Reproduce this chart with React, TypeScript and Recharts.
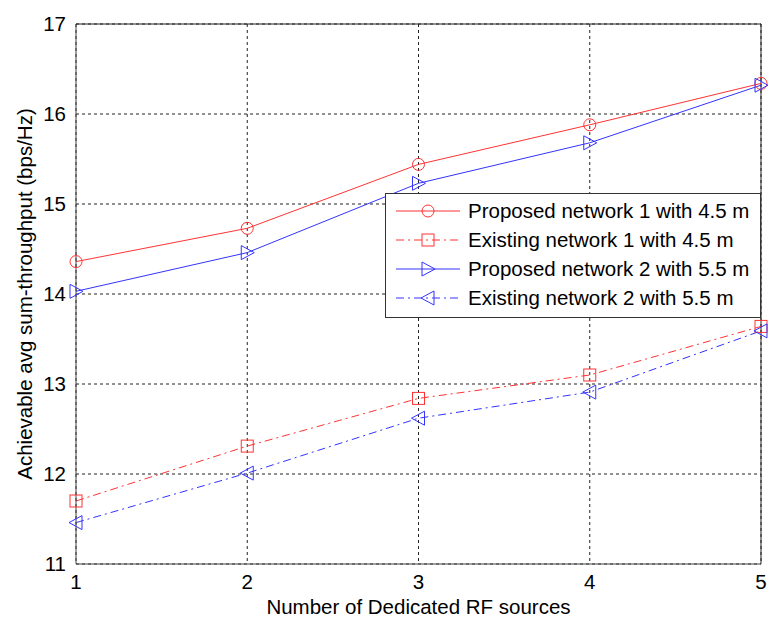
import React from 'react';
import { LineChart, Line, XAxis, YAxis, CartesianGrid, ReferenceLine } from 'recharts';

const sources = [1, 2, 3, 4, 5];
const proposed1 = [14.36, 14.73, 15.44, 15.88, 16.34];
const existing1 = [11.7, 12.31, 12.84, 13.1, 13.64];
const proposed2 = [14.03, 14.46, 15.23, 15.68, 16.32];
const existing2 = [11.46, 12.01, 12.62, 12.91, 13.59];
const xTicks = [1, 2, 3, 4, 5];
const yTicks = [11, 12, 13, 14, 15, 16, 17];
const seriesNames = [
  'Proposed network 1 with 4.5 m',
  'Existing network 1 with 4.5 m',
  'Proposed network 2 with 5.5 m',
  'Existing network 2 with 5.5 m',
];
const xTitle = 'Number of Dedicated RF sources';
const yTitle = 'Achievable avg sum-throughput (bps/Hz)';

const data = sources.map((s, i) => ({
  x: s,
  p1: proposed1[i],
  e1: existing1[i],
  p2: proposed2[i],
  e2: existing2[i],
}));

const RED = '#ff3333';
const BLUE = '#3333ff';
const FONT = 'Liberation Sans, Arial, sans-serif';
const FS = 20.5;

type Kind = 'circle' | 'square' | 'right' | 'left';

const markerEl = (kind: Kind, cx: number, cy: number, color: string, key?: string) => {
  if (kind === 'circle') return <circle key={key} cx={cx} cy={cy} r={6} fill="none" stroke={color} strokeWidth={1} />;
  if (kind === 'square') return <rect key={key} x={cx - 6} y={cy - 6} width={12} height={12} fill="none" stroke={color} strokeWidth={1} />;
  if (kind === 'right')
    return <polygon key={key} points={`${cx - 6},${cy - 7} ${cx + 7},${cy} ${cx - 6},${cy + 7}`} fill="none" stroke={color} strokeWidth={1} />;
  return <polygon key={key} points={`${cx + 6},${cy - 7} ${cx - 7},${cy} ${cx + 6},${cy + 7}`} fill="none" stroke={color} strokeWidth={1} />;
};

const makeDot = (kind: Kind, color: string) => (props: any) => {
  const { cx, cy, index } = props;
  if (cx == null || cy == null) return <g key={index} />;
  return markerEl(kind, cx, cy, color, `m-${kind}-${index}`);
};

const legendItems: { name: string; color: string; dash?: string; kind: Kind }[] = [
  { name: seriesNames[0], color: RED, kind: 'circle' },
  { name: seriesNames[1], color: RED, dash: '8 4 2 4', kind: 'square' },
  { name: seriesNames[2], color: BLUE, kind: 'right' },
  { name: seriesNames[3], color: BLUE, dash: '8 4 2 4', kind: 'left' },
];

const LegendBox = () => (
  <svg width={377} height={126} style={{ display: 'block' }}>
    <rect x={0.5} y={0.5} width={375} height={124} fill="#fff" stroke="#333" strokeWidth={1} />
    {legendItems.map((it, i) => {
      const y = 18 + i * 29;
      return (
        <g key={it.name}>
          <line x1={11} x2={75} y1={y} y2={y} stroke={it.color} strokeWidth={1} strokeDasharray={it.dash} />
          {markerEl(it.kind, 43, y, it.color)}
          <text x={83} y={y + 7} fontSize={FS} fontFamily={FONT} fill="#000">
            {it.name}
          </text>
        </g>
      );
    })}
  </svg>
);

const YLabel = (props: any) => {
  const vb = props.viewBox || { x: 0, y: 24, width: 76, height: 540 };
  const cx = 24;
  const cy = vb.y + vb.height / 2;
  return (
    <text x={cx} y={cy} transform={`rotate(-90 ${cx} ${cy})`} textAnchor="middle" dominantBaseline="central" fontSize={FS} fontFamily={FONT} fill="#000">
      {yTitle}
    </text>
  );
};

const XLabel = (props: any) => {
  const vb = props.viewBox || { x: 76, y: 564, width: 685, height: 55 };
  const cx = vb.x + vb.width / 2;
  return (
    <text x={cx} y={606} textAnchor="middle" dominantBaseline="central" fontSize={FS} fontFamily={FONT} fill="#000">
      {xTitle}
    </text>
  );
};

export default function App() {
  return (
    <div style={{ position: 'absolute', left: 0, top: 0, width: 768, height: 619, background: '#fff' }}>
      <LineChart width={768} height={619} data={data} margin={{ top: 24, right: 7, bottom: 0, left: 0 }}>
        <CartesianGrid stroke="#222" strokeDasharray="3 3" strokeWidth={1} />
        <XAxis
          dataKey="x"
          type="number"
          domain={[1, 5]}
          ticks={xTicks}
          height={55}
          stroke="#444"
          tickLine={false}
          tick={{ fill: '#000', fontSize: FS, fontFamily: FONT, dy: 2 }}
          label={<XLabel />}
        />
        <YAxis
          type="number"
          domain={[11, 17]}
          ticks={yTicks}
          width={76}
          stroke="#444"
          tickLine={false}
          tick={{ fill: '#000', fontSize: FS, fontFamily: FONT, dx: -2 }}
          label={<YLabel />}
        />
        <ReferenceLine y={17} stroke="#222" strokeWidth={1} />
        <ReferenceLine x={5} stroke="#222" strokeWidth={1} />
        <Line dataKey="p1" name={seriesNames[0]} stroke={RED} strokeWidth={1} dot={makeDot('circle', RED)} isAnimationActive={false} />
        <Line dataKey="e1" name={seriesNames[1]} stroke={RED} strokeWidth={1} strokeDasharray="8 4 2 4" dot={makeDot('square', RED)} isAnimationActive={false} />
        <Line dataKey="p2" name={seriesNames[2]} stroke={BLUE} strokeWidth={1} dot={makeDot('right', BLUE)} isAnimationActive={false} />
        <Line dataKey="e2" name={seriesNames[3]} stroke={BLUE} strokeWidth={1} strokeDasharray="8 4 2 4" dot={makeDot('left', BLUE)} isAnimationActive={false} />
      </LineChart>
      <div style={{ position: 'absolute', left: 385, top: 193 }}>
        <LegendBox />
      </div>
    </div>
  );
}
